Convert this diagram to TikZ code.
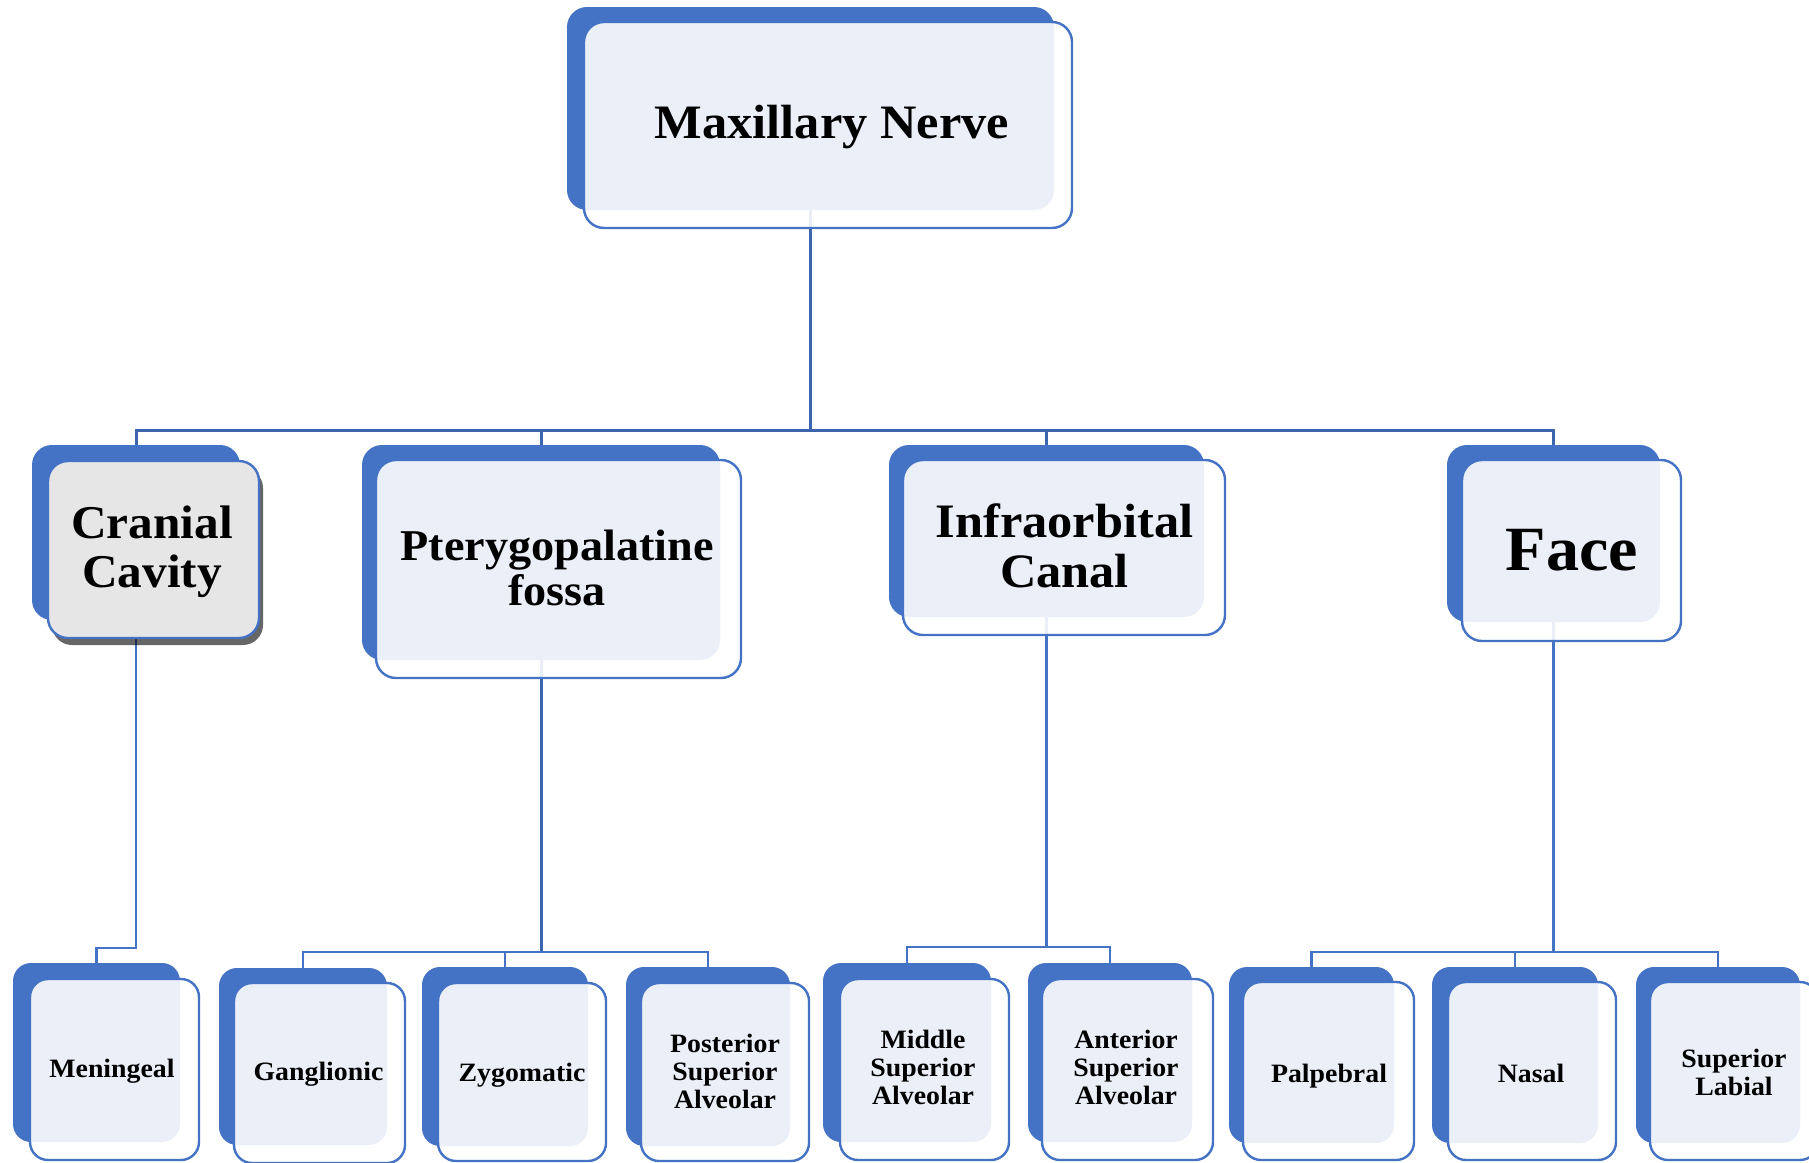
\documentclass[tikz,border=0pt]{standalone}
\usepackage{fontspec}
\setmainfont{Liberation Serif}[FakeStretch=1.05]
\usetikzlibrary{fit,shadows}
\pgfdeclarelayer{bg}
\pgfsetlayers{bg,main}
\definecolor{mblue}{HTML}{4472C4}
\definecolor{cline}{HTML}{3D64AE}
\definecolor{cgray}{HTML}{E7E6E6}
\newcommand{\fMax}{\bfseries\fontsize{24}{26}\selectfont}
\newcommand{\fCra}{\bfseries\fontsize{23.5}{24.5}\selectfont}
\newcommand{\fPte}{\bfseries\fontsize{22}{22.5}\selectfont}
\newcommand{\fInf}{\bfseries\fontsize{24}{25}\selectfont}
\newcommand{\fFac}{\bfseries\fontsize{31.5}{33}\selectfont}
\newcommand{\fSm}{\bfseries\fontsize{13.25}{14}\selectfont}
\tikzset{
  backbox/.style={fill=mblue, draw=none, rounded corners=10pt, inner sep=0pt, outer sep=0pt},
  smallback/.style={backbox, rounded corners=9pt},
  frontbox/.style={draw=mblue, line width=1.2pt, fill=white, fill opacity=0.89,
    rounded corners=10pt, inner sep=0pt, outer sep=0pt},
  smallfront/.style={frontbox, rounded corners=9pt},
  graybox/.style={frontbox, fill=cgray, fill opacity=1,
    drop shadow={shadow xshift=2pt, shadow yshift=-3.5pt, opacity=0.6, fill=black}},
  lbl/.style={inner sep=0pt, outer sep=0pt, align=center, anchor=base},
  connA/.style={draw=cline, line width=1.5pt},
  connB/.style={draw=mblue, line width=1.3pt}
}
\begin{document}
\begin{tikzpicture}[x=0.5pt,y=-0.5pt]
\useasboundingbox (0,0) rectangle (1809,1162);

% top
\node[backbox, fit={(567,7) (1054,210)}] (topB) {};
\node[frontbox, fit={(584,22) (1072,228)}] (top) {};
\node[lbl, font=\fMax] (topT) at (832,138) {Maxillary Nerve};

% level 1
\node[backbox, fit={(32,445) (240,620)}] (cranB) {};
\node[graybox, fit={(48,461) (259,638)}] (cran) {};
\node[lbl, font=\fCra] (cranT) at (152,587) {Cranial\\Cavity};

\node[backbox, fit={(362,445) (720,660)}] (pterB) {};
\node[frontbox, fit={(376,460) (741,678)}] (pter) {};
\node[lbl, font=\fPte] (pterT) at (557,605) {Pterygopalatine\\fossa};

\node[backbox, fit={(889,445) (1204,617)}] (infraB) {};
\node[frontbox, fit={(903,460) (1225,635)}] (infra) {};
\node[lbl, font=\fInf] (infraT) at (1064.5,587) {Infraorbital\\Canal};

\node[backbox, fit={(1447,445) (1660,622)}] (faceB) {};
\node[frontbox, fit={(1462,460) (1681,641)}] (face) {};
\node[lbl, font=\fFac] (faceT) at (1572,570) {Face};

% level 2
\node[smallback, fit={(13,963) (180,1142)}] (menB) {};
\node[smallfront, fit={(30,979) (199,1160)}] (men) {};
\node[lbl, font=\fSm] (menT) at (112,1077) {Meningeal};

\node[smallback, fit={(219,968) (387,1145)}] (gangB) {};
\node[smallfront, fit={(234,983) (405,1163)}] (gang) {};
\node[lbl, font=\fSm] (gangT) at (318.5,1080) {Ganglionic};

\node[smallback, fit={(422,967) (588,1146)}] (zygB) {};
\node[smallfront, fit={(438,983) (606,1161)}] (zyg) {};
\node[lbl, font=\fSm] (zygT) at (522,1081) {Zygomatic};

\node[smallback, fit={(626,967) (790,1146)}] (psaB) {};
\node[smallfront, fit={(641,983) (809,1161)}] (psa) {};
\node[lbl, font=\fSm] (psaT) at (725,1108) {Posterior\\Superior\\Alveolar};

\node[smallback, fit={(823,963) (991,1142)}] (msaB) {};
\node[smallfront, fit={(840,979) (1009,1160)}] (msa) {};
\node[lbl, font=\fSm] (msaT) at (923,1104) {Middle\\Superior\\Alveolar};

\node[smallback, fit={(1028,963) (1192,1142)}] (asaB) {};
\node[smallfront, fit={(1042,979) (1213,1160)}] (asa) {};
\node[lbl, font=\fSm] (asaT) at (1126,1104) {Anterior\\Superior\\Alveolar};

\node[smallback, fit={(1229,967) (1394,1143)}] (palpB) {};
\node[smallfront, fit={(1243,982) (1414,1160)}] (palp) {};
\node[lbl, font=\fSm] (palpT) at (1329,1082) {Palpebral};

\node[smallback, fit={(1432,967) (1598,1143)}] (nasB) {};
\node[smallfront, fit={(1448,982) (1616,1160)}] (nas) {};
\node[lbl, font=\fSm] (nasT) at (1531,1082) {Nasal};

\node[smallback, fit={(1636,967) (1800,1143)}] (slB) {};
\node[smallfront, fit={(1650,982) (1818,1160)}] (sl) {};
\node[lbl, font=\fSm] (slT) at (1734,1095) {Superior\\Labial};

% connectors
\begin{pgfonlayer}{bg}
\coordinate (b0) at (810.5,430);
\draw[connA] (topB.south) -- (b0);
\draw[connA] (cranB.north) |- (b0);
\draw[connA] (pterB.north) |- (b0);
\draw[connA] (infraB.north) |- (b0);
\draw[connA] (faceB.north) |- (b0);

\coordinate (b1) at (136,948);
\draw[connB] (cranB.south) -- (b1) -| (menB.north);

\coordinate (b2) at (541,952);
\draw[connA] (pterB.south) -- (b2);
\draw[connB] (gangB.north) |- (b2);
\draw[connB] (zygB.north) |- (b2);
\draw[connB] (psaB.north) |- (b2);

\coordinate (b3) at (1046.5,947);
\draw[connB] (infraB.south) -- (b3);
\draw[connB] (msaB.north) |- (b3);
\draw[connB] (asaB.north) |- (b3);

\coordinate (b4) at (1553.5,952);
\draw[connB] (faceB.south) -- (b4);
\draw[connB] (palpB.north) |- (b4);
\draw[connB] (nasB.north) |- (b4);
\draw[connB] (slB.north) |- (b4);
\end{pgfonlayer}
\end{tikzpicture}
\end{document}
